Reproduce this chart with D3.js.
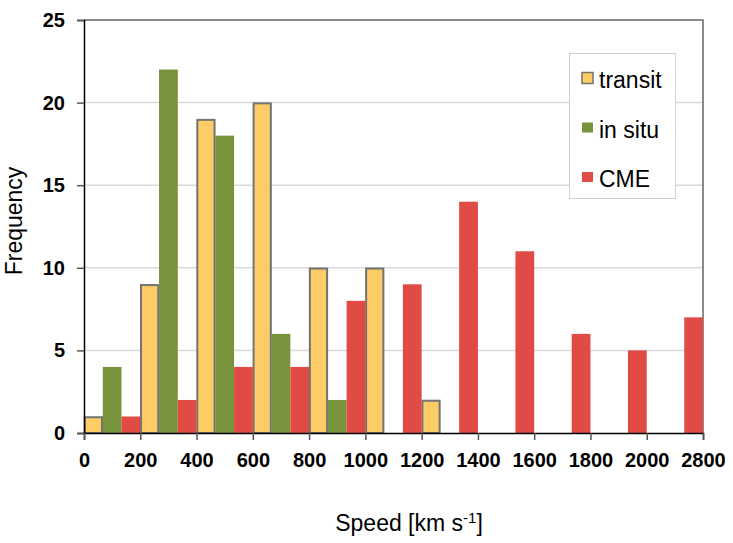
<!DOCTYPE html>
<html>
<head>
<meta charset="utf-8">
<script src="https://cdn.jsdelivr.net/npm/d3@7"></script>
<style>
  html, body { margin: 0; padding: 0; background: #fff; }
  svg { display: block; font-family: "Liberation Sans", Arial, Helvetica, sans-serif; }
</style>
</head>
<body>
<svg id="chart" width="733" height="543"></svg>
<script>
// ---- data ----
const binEdgeLabels = ["0", "200", "400", "600", "800", "1000", "1200", "1400", "1600", "1800", "2000", "2800"];
const bins = ["b0", "b1", "b2", "b3", "b4", "b5", "b6", "b7", "b8", "b9", "b10"];
const seriesNames = ["transit", "in situ", "CME"];
const transitValues = [1, 9, 19, 20, 10, 10, 2, 0, 0, 0, 0];
const inSituValues  = [4, 22, 18, 6, 2, 0, 0, 0, 0, 0, 0];
const cmeValues     = [1, 2, 4, 4, 8, 9, 14, 11, 6, 5, 7];
const yTicks = [0, 5, 10, 15, 20, 25];

const seriesColors = {"transit": "#fdcc67", "in situ": "#77933c", "CME": "#e04b45"};
const seriesData = {"transit": transitValues, "in situ": inSituValues, "CME": cmeValues};

// ---- layout ----
const svg = d3.select("#chart");
const mLeft = 84, mRight = 703, mTop = 20, mBottom = 433;

const x = d3.scaleBand().domain(bins).range([mLeft, mRight]).padding(0);
const xSub = d3.scaleBand().domain(seriesNames).range([0, x.bandwidth()]).padding(0);
const xEdge = d3.scalePoint().domain(binEdgeLabels).range([mLeft, mRight]);
const y = d3.scaleLinear().domain([0, 25]).range([mBottom, mTop]);

// gridlines
svg.append("g").selectAll("line")
  .data(yTicks.filter(d => d > 0 && d < 25))
  .join("line")
  .attr("x1", mLeft).attr("x2", mRight)
  .attr("y1", d => y(d)).attr("y2", d => y(d))
  .attr("stroke", "#d9d9d9").attr("stroke-width", 1.5);

// plot frame (top & right)
svg.append("path")
  .attr("d", `M${mLeft},${mTop}H${mRight}V${mBottom}`)
  .attr("fill", "none").attr("stroke", "#666").attr("stroke-width", 1.5);

// bars
seriesNames.forEach(s => {
  const g = svg.append("g");
  const vals = seriesData[s];
  const isT = s === "transit";
  g.selectAll("rect")
    .data(bins.map((b, i) => ({bin: b, v: vals[i]})).filter(d => d.v > 0))
    .join("rect")
    .attr("x", d => x(d.bin) + xSub(s) + (isT ? 0.75 : 0))
    .attr("width", xSub.bandwidth() - (isT ? 1.5 : 0))
    .attr("y", d => y(d.v) + (isT ? 0.75 : 0))
    .attr("height", d => y(0) - y(d.v) - (isT ? 0.75 : 0))
    .attr("fill", seriesColors[s])
    .attr("stroke", isT ? "#737373" : "none")
    .attr("stroke-width", isT ? 2 : 0);
});

// y axis
const yAxis = d3.axisLeft(y).tickValues(yTicks).tickSize(7).tickPadding(12);
const gy = svg.append("g").attr("transform", `translate(${mLeft},0)`).call(yAxis);
gy.select(".domain").attr("stroke", "#000").attr("stroke-width", 1.5);
gy.selectAll(".tick line").attr("stroke", "#555").attr("stroke-width", 1.5);
gy.selectAll(".tick text").attr("font-size", 20).attr("font-weight", "bold")
  .attr("fill", "#000").attr("font-family", "Liberation Sans, Arial, sans-serif");

// x axis (labels at bin edges)
const xAxis = d3.axisBottom(xEdge).tickSize(7).tickPadding(13);
const gx = svg.append("g").attr("transform", `translate(0,${mBottom})`).call(xAxis);
gx.select(".domain").attr("stroke", "#000").attr("stroke-width", 1.5);
gx.selectAll(".tick line").attr("stroke", "#555").attr("stroke-width", 1.5);
gx.selectAll(".tick text").attr("font-size", 20).attr("font-weight", "bold")
  .attr("fill", "#000").attr("font-family", "Liberation Sans, Arial, sans-serif");

// axis titles
svg.append("text")
  .attr("transform", "translate(22,221) rotate(-90)")
  .attr("text-anchor", "middle")
  .attr("font-size", 23)
  .attr("fill", "#000")
  .text("Frequency");

const xt = svg.append("text")
  .attr("x", 409).attr("y", 531)
  .attr("text-anchor", "middle")
  .attr("font-size", 23)
  .attr("fill", "#000");
xt.append("tspan").text("Speed [km s");
xt.append("tspan").attr("font-size", 15).attr("dy", -8).text("-1");
xt.append("tspan").attr("dy", 8).text("]");

// legend
const lg = svg.append("g");
lg.append("rect")
  .attr("x", 569.5).attr("y", 53.5).attr("width", 106).attr("height", 145)
  .attr("fill", "#fff").attr("stroke", "#d0d0d0").attr("stroke-width", 1);
const legY = d3.scalePoint().domain(seriesNames).range([78, 177]);
seriesNames.forEach(s => {
  const cy = legY(s);
  if (s === "transit") {
    lg.append("rect").attr("x", 582).attr("y", cy - 5.5).attr("width", 11).attr("height", 11)
      .attr("fill", seriesColors[s]).attr("stroke", "#737373").attr("stroke-width", 1.5);
  } else {
    lg.append("rect").attr("x", 582).attr("y", cy - 5).attr("width", 11).attr("height", 10)
      .attr("fill", seriesColors[s]);
  }
  lg.append("text").attr("x", 599).attr("y", cy + 10)
    .attr("font-size", 23).attr("fill", "#000").text(s);
});
</script>
</body>
</html>
